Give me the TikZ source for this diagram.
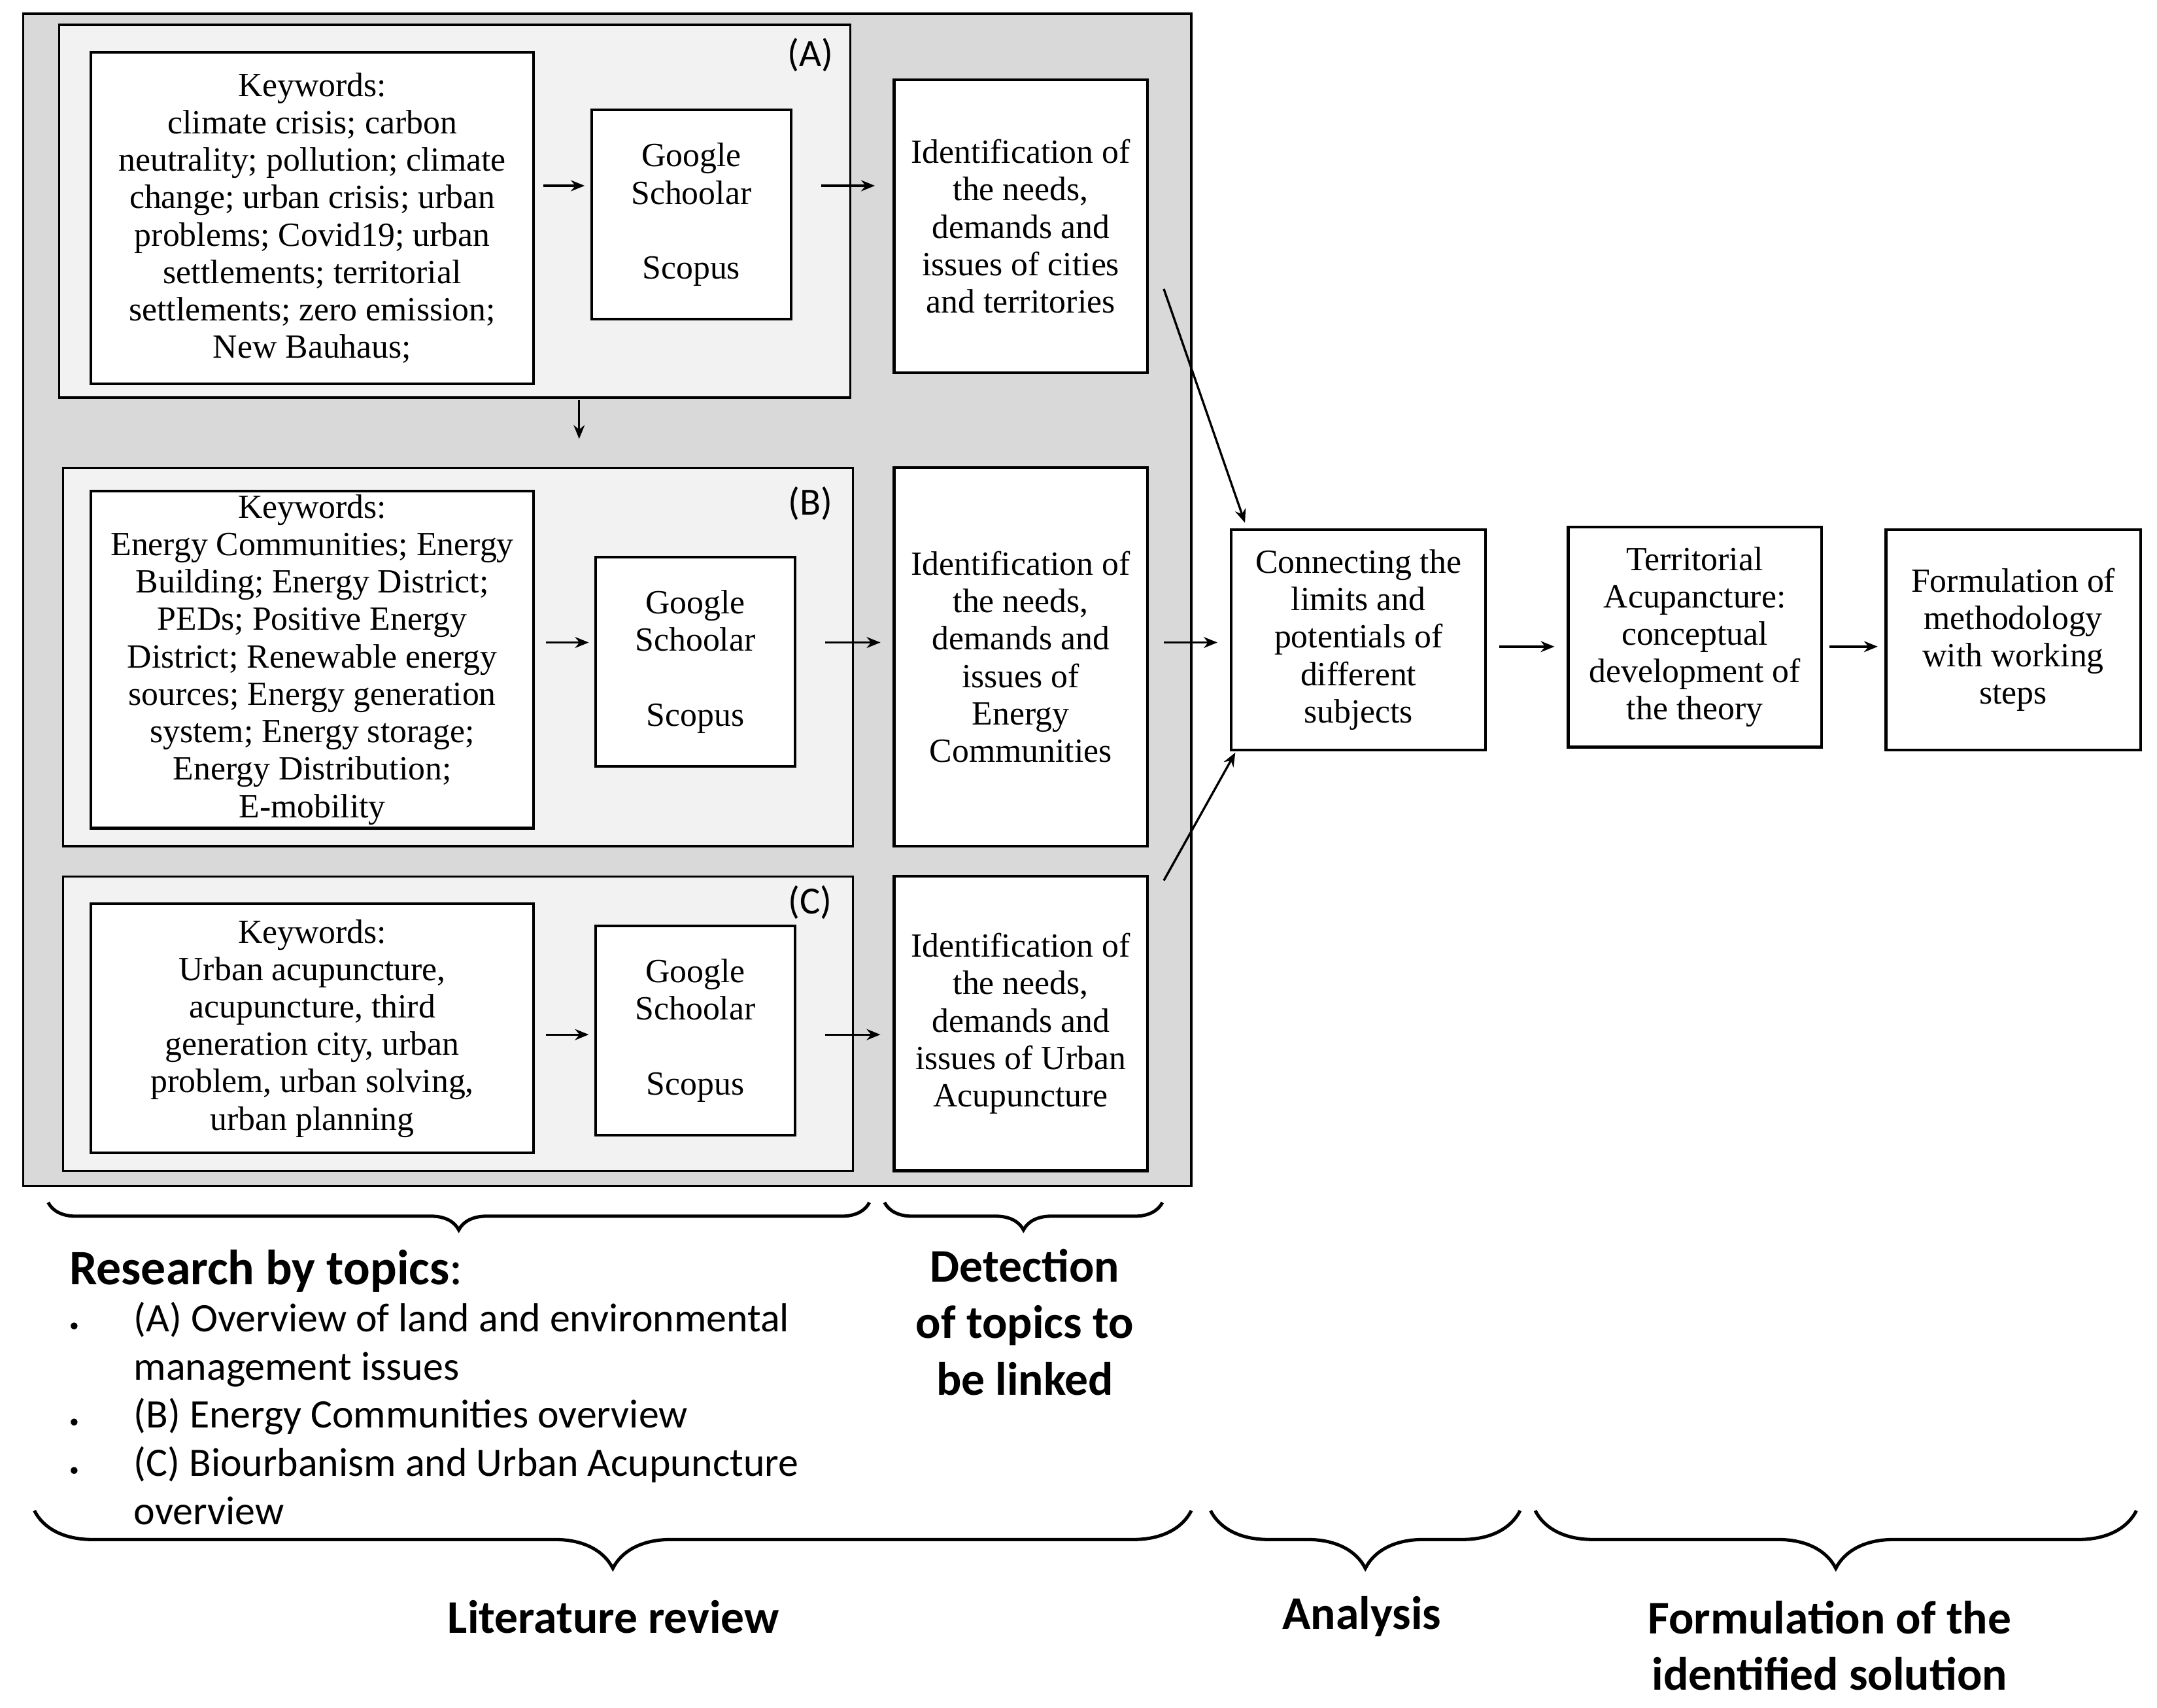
\documentclass[tikz,border=0pt]{standalone}
\usepackage{fontspec}
\setmainfont{Liberation Serif}
\newfontfamily\sansf{Carlito}
\usetikzlibrary{fit,decorations.pathreplacing,arrows.meta}
\begin{document}
\begin{tikzpicture}[x=0.5pt,y=-0.5pt,
  box/.style={draw=black,line width=1pt,fill=white,inner sep=0pt},
  txt/.style={inner sep=0pt,align=center,font=\fontsize{12.3}{13.6}\selectfont},
  panel/.style={draw=black,line width=0.8pt,fill=black!5,inner sep=0pt},
  arr/.style={-{Stealth[length=5pt,width=4pt]},line width=0.8pt},
  br/.style={decorate,decoration={brace,mirror,amplitude=10pt},line width=1.2pt},
  sn/.style={font=\sansf\fontsize{14.7}{17.5}\selectfont,align=left,anchor=north west,inner sep=0pt},
  hd/.style={font=\sansf\bfseries\fontsize{17}{20.5}\selectfont,align=center,inner sep=0pt}]
\useasboundingbox (0,0) rectangle (1568,1241);
\node[draw=black,line width=0.8pt,fill=black!15,inner sep=0pt,fit={(17,10)(866,862)}] (outer) {};
% Panel A
\node[panel,fit={(43,18)(618,289)}] (pA) {};
\node[anchor=center,font=\sansf\fontsize{14}{15}\selectfont] (lA) at (589,40) {(A)};
\node[box,fit={(66,38)(388,279)}] (kA) {};
\node[txt] (tkA) at (kA.center) {Keywords:\\climate crisis; carbon\\neutrality; pollution; climate\\change; urban crisis; urban\\problems; Covid19; urban\\settlements; territorial\\settlements; zero emission;\\New Bauhaus;};
\node[box,fit={(430,80)(575,232)}] (gA) {};
\node[txt] (tgA) at (gA.center) {Google\\Schoolar\\[13.6pt]Scopus};
\node[box,fit={(650,58)(834,271)}] (iA) {};
\node[txt] (tiA) at (iA.center) {Identification of\\the needs,\\demands and\\issues of cities\\and territories};
% Panel B
\node[panel,fit={(46,340)(620,615)}] (pB) {};
\node[anchor=center,font=\sansf\fontsize{14}{15}\selectfont] (lB) at (589,366) {(B)};
\node[box,fit={(66,357)(388,602)}] (kB) {};
\node[txt] (tkB) at (kB.center) {Keywords:\\Energy Communities; Energy\\Building; Energy District;\\PEDs; Positive Energy\\District; Renewable energy\\sources; Energy generation\\system; Energy storage;\\Energy Distribution;\\E-mobility};
\node[box,fit={(433,405)(578,557)}] (gB) {};
\node[txt] (tgB) at (gB.center) {Google\\Schoolar\\[13.6pt]Scopus};
\node[box,fit={(650,340)(834,615)}] (iB) {};
\node[txt] (tiB) at (iB.center) {Identification of\\the needs,\\demands and\\issues of\\Energy\\Communities};
% Panel C
\node[panel,fit={(46,637)(620,851)}] (pC) {};
\node[anchor=center,font=\sansf\fontsize{14}{15}\selectfont] (lC) at (589,656) {(C)};
\node[box,fit={(66,657)(388,838)}] (kC) {};
\node[txt] (tkC) at (kC.center) {Keywords:\\Urban acupuncture,\\acupuncture, third\\generation city, urban\\problem, urban solving,\\urban planning};
\node[box,fit={(433,673)(578,825)}] (gC) {};
\node[txt] (tgC) at (gC.center) {Google\\Schoolar\\[13.6pt]Scopus};
\node[box,fit={(650,637)(834,851)}] (iC) {};
\node[txt] (tiC) at (iC.center) {Identification of\\the needs,\\demands and\\issues of Urban\\Acupuncture};
% right
\node[box,fit={(895,385)(1080,545)}] (cn) {};
\node[txt] (tcn) at (cn.center) {Connecting the\\limits and\\potentials of\\different\\subjects};
\node[box,fit={(1140,383)(1324,543)}] (ta) {};
\node[txt] (tta) at (ta.center) {Territorial\\Acupancture:\\conceptual\\development of\\the theory};
\node[box,fit={(1371,385)(1556,545)}] (fm) {};
\node[txt] (tfm) at (fm.center) {Formulation of\\methodology\\with working\\steps};
% arrows
\coordinate (a1) at (395,135); \coordinate (a2) at (425,135);
\coordinate (a3) at (597,135); \coordinate (a4) at (636,135);
\coordinate (d1) at (421,291); \coordinate (d2) at (421,319);
\coordinate (b1) at (397,467); \coordinate (b2) at (428,467);
\coordinate (b3) at (600,467); \coordinate (b4) at (640,467);
\coordinate (c1) at (397,752); \coordinate (c2) at (428,752);
\coordinate (c3) at (600,752); \coordinate (c4) at (640,752);
\coordinate (e1) at (846,210); \coordinate (e2) at (905,380);
\coordinate (e3) at (846,467); \coordinate (e4) at (885,467);
\coordinate (e5) at (846,640); \coordinate (e6) at (898,547);
\coordinate (f1) at (1090,470); \coordinate (f2) at (1130,470);
\coordinate (f3) at (1330,470); \coordinate (f4) at (1365,470);
\foreach \s/\t in {a1/a2,a3/a4,d1/d2,b1/b2,b3/b4,c1/c2,c3/c4,e1/e2,e3/e4,e5/e6,f1/f2,f3/f4}
  \draw[arr] (\s) -- (\t);
% braces
\coordinate (r1) at (35,874); \coordinate (r2) at (632,874);
\coordinate (r3) at (643,874); \coordinate (r4) at (845,874);
\draw[br] (r1) -- (r2);
\draw[br] (r3) -- (r4);
\coordinate (s1) at (25,1098); \coordinate (s2) at (866,1098);
\coordinate (s3) at (880,1098); \coordinate (s4) at (1105,1098);
\coordinate (s5) at (1116,1098); \coordinate (s6) at (1553,1098);
\draw[br,decoration={amplitude=21pt}] (s1) -- (s2);
\draw[br,decoration={amplitude=21pt}] (s3) -- (s4);
\draw[br,decoration={amplitude=21pt}] (s5) -- (s6);
% texts
\node[anchor=west,inner sep=0pt,font=\sansf\fontsize{18}{20}\selectfont] (rt) at (50,924) {\textbf{Research by topics}:};
\node[sn] (bl) at (50,946) {\makebox[23.5pt][l]{\scriptsize\textbullet}(A) Overview of land and environmental\\
\hspace*{23.5pt}management issues\\
\makebox[23.5pt][l]{\scriptsize\textbullet}(B) Energy Communities overview\\
\makebox[23.5pt][l]{\scriptsize\textbullet}(C) Biourbanism and Urban Acupuncture\\
\hspace*{23.5pt}overview};
\node[hd] (dt) at (745,961) {Detection\\of topics to\\be linked};
\node[hd] (lr) at (446,1175) {Literature review};
\node[hd] (an) at (990,1175) {Analysis};
\node[hd] (fs) at (1330,1196) {Formulation of the\\identified solution};
\end{tikzpicture}
\end{document}
